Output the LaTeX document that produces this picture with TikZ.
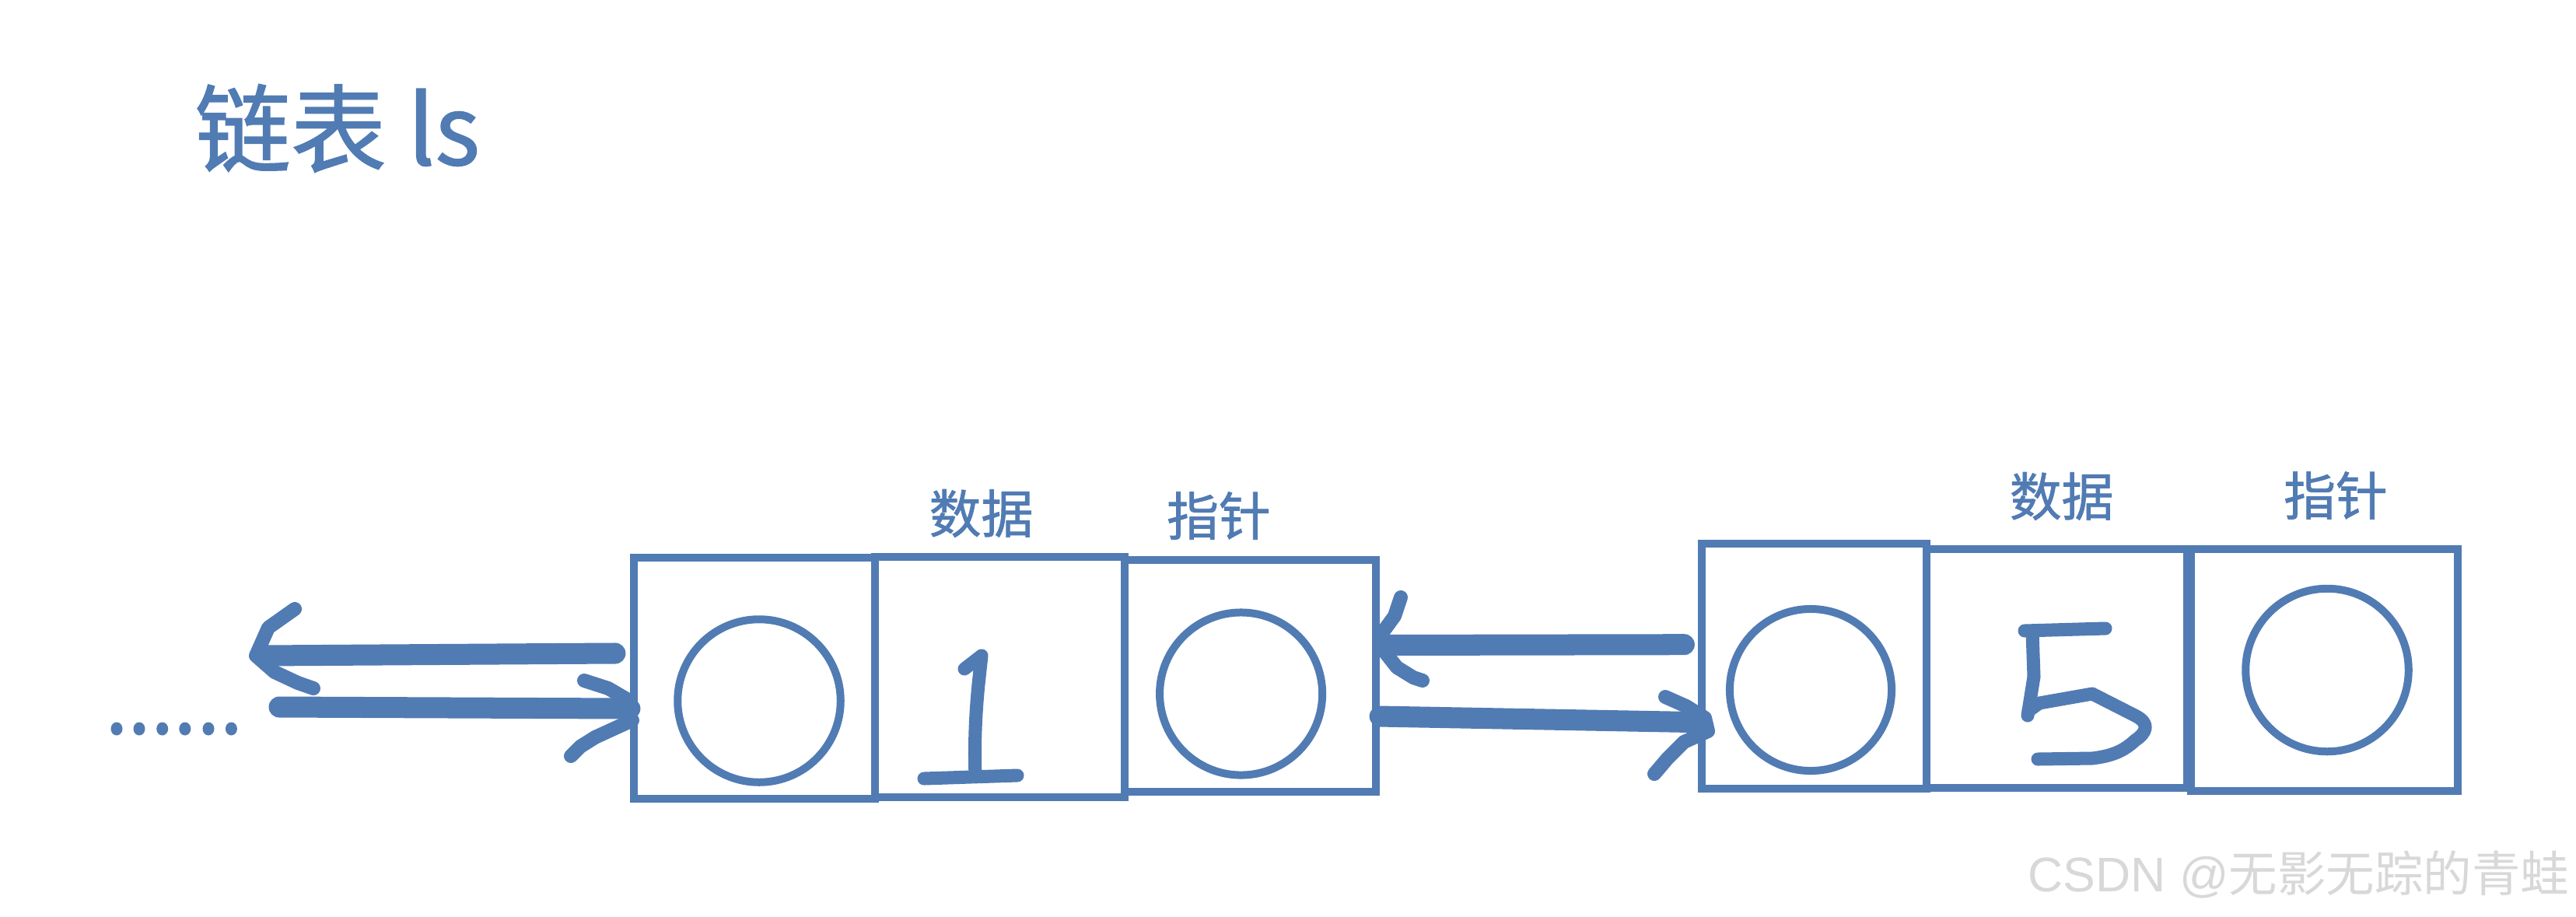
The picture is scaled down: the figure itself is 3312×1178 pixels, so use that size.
\documentclass[tikz,border=0pt]{standalone}
\usepackage{graphicx}
\usepackage{fontspec}
\setmainfont{Noto Sans CJK SC}
\newfontfamily\semifont[FakeBold=1.2]{Noto Sans CJK SC}
\newfontfamily\latinwm{Liberation Sans}
\definecolor{lb}{RGB}{81,123,179}
\definecolor{wm}{RGB}{216,216,216}
\begin{document}
\begin{tikzpicture}[x=0.01cm,y=-0.01cm,
  box/.style={draw=lb,line width=0.1cm,inner sep=0,rectangle},
  ring/.style={draw=lb,line width=0.1cm,circle,inner sep=0},
  shaft/.style={draw=lb,line width=0.27cm,line cap=round},
  head/.style={draw=lb,line width=0.18cm,line cap=round,line join=round},
  hand/.style={draw=lb,line width=0.17cm,line cap=round,line join=round},
  lbl/.style={text=lb,font=\semifont\fontsize{19}{19}\selectfont,inner sep=0}]
\useasboundingbox (0,0) rectangle (3312,1178);

% title
\node[anchor=base west,text=lb,font=\semifont\fontsize{35}{35}\selectfont,inner sep=0] (title) at (250,212) {链表 ls};

% boxes of node 1
\node[box,minimum width=3.10cm,minimum height=3.10cm] (b1) at (970,872) {};
\node[box,minimum width=3.207cm,minimum height=3.088cm] (b2) at (1285.4,870.1) {};
\node[box,minimum width=3.233cm,minimum height=2.98cm] (b3) at (1607.4,869) {};
% boxes of node 2
\node[box,minimum width=2.885cm,minimum height=3.145cm] (b4) at (2332.7,856.7) {};
\node[box,minimum width=3.35cm,minimum height=3.073cm] (b5) at (2644.5,859.4) {};
\node[box,minimum width=3.43cm,minimum height=3.113cm] (b6) at (2988.5,861.4) {};

% rings
\node[ring,minimum size=2.094cm] (c1) at (976,901) {};
\node[ring,minimum size=2.09cm] (c3) at (1595.6,892) {};
\node[ring,minimum size=2.08cm] (c4) at (2328,887) {};
\node[ring,minimum size=2.094cm] (c6) at (2992,861.5) {};

% labels
\node[lbl] (d1) at (1261.5,660) {数据};
\node[lbl] (p1) at (1567,663) {指针};
\node[lbl] (d2) at (2650.6,638) {数据};
\node[lbl] (p2) at (3003,637) {指针};

% hand-written 1
\draw[hand] (1240,860) -- (1262,843) -- (1258,880) .. controls (1253,930) and (1253,970) .. (1254,998);
\draw[hand] (1188,1001) -- (1308,997);
% hand-written 5
\draw[hand] (2603,811) -- (2707,808);
\draw[hand] (2613,812) -- (2615,870) -- (2607,920);
\draw[hand] (2608,914) -- (2622,904) -- (2690,892) -- (2745,920) .. controls (2765,930) and (2760,942) .. (2745,952) .. controls (2730,966) and (2715,972) .. (2690,975) -- (2620,976);

% dots
\foreach \x in {150,179,208.7,237.8,268,297.4}
  \fill[lb] (\x,937) ellipse [x radius=0.075cm, y radius=0.085cm];

% left arrows
\coordinate (ul) at (337,843);
\coordinate (ll) at (359,909);
\draw[shaft] ([xshift=-0.19cm,yshift=0.32cm]b1.west) -- (ul);
\draw[head] (379,783) -- (345,807) -- (329,843) -- (353,864) -- (383,878) -- (403,885);
\draw[shaft] (ll) -- ([yshift=-0.39cm]b1.west);
\draw[head] (751,875) -- (782,885) -- (806,899) -- (813,914);
\draw[head] (813,926) -- (765,948) -- (746,960) -- (734,972);

% middle arrows
\draw[shaft] ([xshift=-0.18cm,yshift=0.28cm]b4.west) -- ([xshift=0.05cm,yshift=0.395cm]b3.east);
\draw[head] (1801,768) -- (1793,792) -- (1774,818) -- (1774,830) -- (1796,858) -- (1817,871) -- (1829,875);
\draw[shaft] ([yshift=-0.52cm]b3.east) -- ([xshift=0.04cm,yshift=-0.72cm]b4.west);
\draw[head] (2141,896) -- (2168,908) -- (2192,923) -- (2196,940) -- (2165,954) -- (2144,975) -- (2127,995);

% watermark
\node[anchor=base west,text=wm,inner sep=0] (wmk) at (2607,1146) {\resizebox{6.95cm}{!}{\fontsize{19.5}{19.5}\selectfont{\latinwm CSDN @}无影无踪的青蛙}};
\end{tikzpicture}
\end{document}
